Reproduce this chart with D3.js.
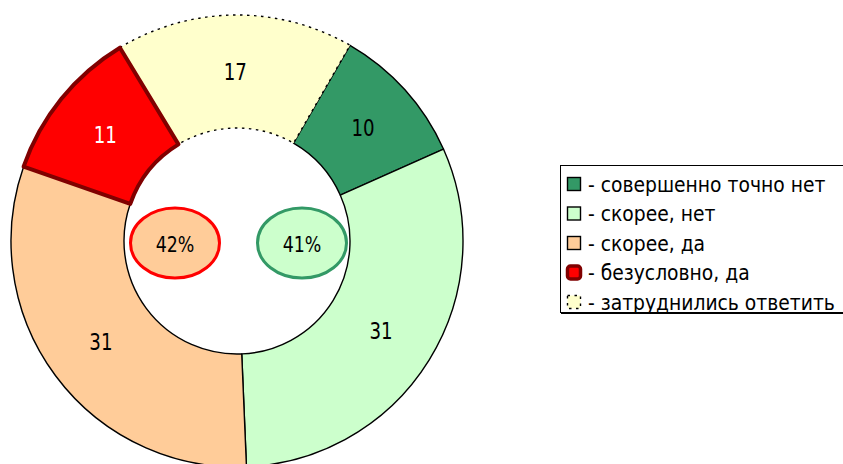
<!DOCTYPE html>
<html><head><meta charset="utf-8">
<script src="https://cdn.jsdelivr.net/npm/d3@7"></script>
<style>body{margin:0;background:#fff}svg{display:block}</style>
</head><body>
<svg id="c" width="843" height="464"></svg>
<script>
const categories = ["- совершенно точно нет", "- скорее, нет", "- скорее, да", "- безусловно, да", "- затруднились ответить"];
const values = [10, 31, 31, 11, 17];
const colors = ["#339966", "#CCFFCC", "#FFCC99", "#FF0000", "#FFFFCC"];
const totalsLabels = ["42%", "41%"];
const totalsFill = ["#FFCC99", "#CCFFCC"];
const totalsStroke = ["#FF0000", "#339966"];

const svg = d3.select("#c");
const font = "'DejaVu Sans Condensed', 'DejaVu Sans', Verdana, sans-serif";
const cx = 237, cy = 241, r0 = 113, r1 = 226;
const g = svg.append("g").attr("transform", `translate(${cx},${cy})`);
const pie = d3.pie().sort(null).value(d => d).startAngle(Math.PI / 6).endAngle(Math.PI / 6 + 2 * Math.PI);
const arcs = pie(values);
const arc = d3.arc().innerRadius(r0).outerRadius(r1);
const labelArc = d3.arc().innerRadius((r0 + r1) / 2).outerRadius((r0 + r1) / 2);

function strokeOf(i) { return i === 3 ? "#800000" : "#000"; }

g.selectAll("path.s").data(arcs).enter().append("path")
  .attr("class", "s")
  .attr("d", arc)
  .attr("fill", (d, i) => colors[i])
  .attr("stroke", (d, i) => i === 3 ? "none" : "#000")
  .attr("stroke-width", 1.4)
  .attr("stroke-dasharray", (d, i) => i === 4 ? "2.5,4.5" : null)
  .attr("stroke-linejoin", "round");
g.append("path").attr("d", arc(arcs[3])).attr("fill", colors[3])
  .attr("stroke", "#800000").attr("stroke-width", 4).attr("stroke-linejoin", "round");

g.selectAll("text.v").data(arcs).enter().append("text")
  .attr("class", "v")
  .attr("transform", d => { const [x, y] = labelArc.centroid(d); return `translate(${x},${y}) scale(0.88,1)`; })
  .attr("text-anchor", "middle").attr("dy", "0.36em")
  .attr("font-family", font).attr("font-size", 23)
  .attr("fill", (d, i) => i === 3 ? "#fff" : "#000")
  .text(d => d.data);

const ex = d3.scaleOrdinal().domain(totalsLabels).range([175, 302]);
totalsLabels.forEach((t, i) => {
  svg.append("ellipse").attr("cx", ex(t)).attr("cy", 243).attr("rx", 44.5).attr("ry", 35)
    .attr("fill", totalsFill[i]).attr("stroke", totalsStroke[i]).attr("stroke-width", 3);
  svg.append("text").attr("transform", `translate(${ex(t)},244) scale(0.88,1)`).attr("dy", "0.36em")
    .attr("text-anchor", "middle").attr("font-family", font).attr("font-size", 22)
    .text(t);
});

const lg = svg.append("g");
lg.append("rect").attr("x", 560.5).attr("y", 165.5).attr("width", 300).attr("height", 147)
  .attr("fill", "#fff").attr("stroke", "#000").attr("stroke-width", 1);
lg.append("line").attr("x1", 561).attr("x2", 860).attr("y1", 313.5).attr("y2", 313.5).attr("stroke", "#000").attr("stroke-width", 1);
const ly = d3.scalePoint().domain(categories).range([184, 302]);
const texts = [];
categories.forEach((c, i) => {
  const y = ly(c);
  lg.append("rect").attr("x", 567.5).attr("y", y - 6.5).attr("width", 13).attr("height", 13)
    .attr("rx", i === 3 ? 3 : 0)
    .attr("fill", colors[i])
    .attr("stroke", strokeOf(i))
    .attr("stroke-width", i === 3 ? 3.5 : 1.4)
    .attr("stroke-dasharray", i === 4 ? "2.5,4.5" : null);
  texts.push(lg.append("text").attr("x", 0).attr("y", 0).attr("dy", "0.36em")
    .attr("font-family", font).attr("font-size", 21).attr("fill", "#000")
    .text(c));
});
// fit horizontally so the widest row ends at x≈836
const wMax = d3.max(texts, t => t.node().getComputedTextLength());
const sx = 247 / wMax;
texts.forEach((t, i) => t.attr("transform", `translate(588,${ly(categories[i])}) scale(${sx},1)`));
</script>
</body></html>
